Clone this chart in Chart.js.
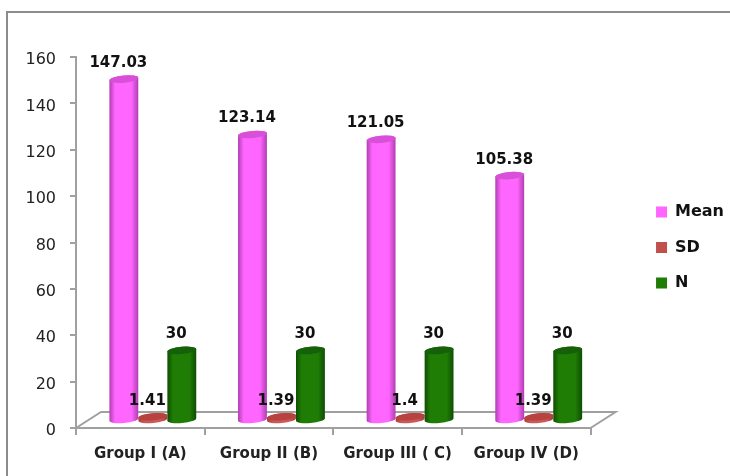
<!DOCTYPE html>
<html>
<head>
<meta charset="utf-8">
<title>Group comparison</title>
<script src="https://cdn.jsdelivr.net/npm/chart.js@4/dist/chart.umd.min.js"></script>
<style>
  html, body { margin: 0; padding: 0; background: #fff; }
  canvas { display: block; }
</style>
</head>
<body>
<canvas id="groupChart" width="730" height="476"></canvas>
<script>
const groups = ["Group I (A)", "Group II (B)", "Group III ( C)", "Group IV (D)"];
const meanValues = [147.03, 123.14, 121.05, 105.38];
const sdValues = [1.41, 1.39, 1.4, 1.39];
const nValues = [30, 30, 30, 30];
const yTicks = [0, 20, 40, 60, 80, 100, 120, 140, 160];

const AXIS_GREY = "#a0a0a0";
const FONT = "'DejaVu Sans', Verdana, sans-serif";

// floor depth of the fake 3D box, bars stand halfway into it
const DEPTH_X = 25;
const DEPTH_Y = 16;
const ELLIPSE_RY = 3.6;

const shades = [
  { edge: "#b03db0", mid: "#ff66ff", top: "#d84fd8" },
  { edge: "#a83c38", mid: "#c9595a", top: "#b8423e" },
  { edge: "#0e4d02", mid: "#1f7d06", top: "#16600a" }
];

function drawCylinder(ctx, bar, shade) {
  const w = bar.width;
  const left = bar.x - w / 2 + DEPTH_X / 2;
  const cx = left + w / 2;
  const topY = bar.y - DEPTH_Y / 2;
  const baseY = bar.base - DEPTH_Y / 2 + 0.5;
  const tilt = -0.09;

  const side = ctx.createLinearGradient(left, 0, left + w, 0);
  side.addColorStop(0, shade.edge);
  side.addColorStop(0.2, shade.mid);
  side.addColorStop(0.76, shade.mid);
  side.addColorStop(1, shade.edge);

  ctx.fillStyle = side;
  ctx.beginPath();
  ctx.ellipse(cx, baseY, w / 2, ELLIPSE_RY, tilt, 0, Math.PI);
  ctx.ellipse(cx, topY, w / 2, ELLIPSE_RY, tilt, Math.PI, Math.PI * 2);
  ctx.closePath();
  ctx.fill();

  ctx.fillStyle = shade.top;
  ctx.beginPath();
  ctx.ellipse(cx, topY, w / 2, ELLIPSE_RY, tilt, 0, Math.PI * 2);
  ctx.fill();
}

const box3d = {
  id: "box3d",
  beforeDraw(chart) {
    // outer frame, runs off the right and bottom of the canvas
    const ctx = chart.ctx;
    ctx.save();
    ctx.strokeStyle = "#8c8c8c";
    ctx.lineWidth = 2;
    ctx.strokeRect(7, 12, 740, 470);
    ctx.restore();
  },
  afterLayout(chart) {
    // legend sits right of the floor, level with the middle of the plot
    const lg = chart.legend;
    lg.top -= 19;
    lg.bottom -= 19;
    lg.left += 46;
    lg.right += 46;
  },
  beforeDatasetsDraw(chart) {
    const { ctx, chartArea: a } = chart;
    ctx.save();
    ctx.strokeStyle = AXIS_GREY;
    ctx.lineWidth = 2;
    ctx.beginPath();
    ctx.moveTo(a.left, a.bottom);
    ctx.lineTo(a.left + DEPTH_X, a.bottom - DEPTH_Y);
    ctx.lineTo(a.right + DEPTH_X, a.bottom - DEPTH_Y);
    ctx.lineTo(a.right, a.bottom);
    ctx.stroke();
    // left to right so each bar overlaps the one before it
    chart.data.datasets.forEach((ds, i) => {
      chart.getDatasetMeta(i).data.forEach(bar => drawCylinder(ctx, bar, shades[i]));
    });
    ctx.restore();
  },
  beforeDatasetDraw() {
    return false; // skip the flat rectangles
  },
  afterDatasetsDraw(chart) {
    const ctx = chart.ctx;
    ctx.save();
    ctx.fillStyle = "#111";
    ctx.font = "bold 15px " + FONT;
    ctx.textAlign = "center";
    ctx.textBaseline = "middle";
    chart.data.datasets.forEach((ds, i) => {
      chart.getDatasetMeta(i).data.forEach((bar, j) => {
        ctx.fillText(String(ds.data[j]), bar.x + DEPTH_X / 2 - 5.5, bar.y - DEPTH_Y / 2 - 16);
      });
    });
    ctx.restore();
  }
};

new Chart(document.getElementById("groupChart"), {
  type: "bar",
  plugins: [box3d],
  data: {
    labels: groups,
    datasets: [
      { label: "Mean", data: meanValues, backgroundColor: "#ff66ff" },
      { label: "SD", data: sdValues, backgroundColor: "#c0504d" },
      { label: "N", data: nValues, backgroundColor: "#1f7d06" }
    ]
  },
  options: {
    responsive: false,
    animation: false,
    categoryPercentage: 0.676,
    barPercentage: 1,
    layout: { padding: { top: 57, right: 42, left: 0, bottom: 0 } },
    plugins: {
      title: { display: false },
      tooltip: { enabled: false },
      legend: {
        position: "right",
        labels: {
          boxWidth: 11,
          boxHeight: 11,
          padding: 19.5,
          color: "#111",
          font: { family: FONT, size: 16, weight: "bold" }
        }
      }
    },
    scales: {
      x: {
        afterFit(scale) { scale.height = 48; },
        border: { color: AXIS_GREY, width: 2 },
        grid: { drawOnChartArea: false, color: AXIS_GREY, lineWidth: 2, tickLength: 7 },
        ticks: {
          color: "#222",
          padding: 10,
          maxRotation: 0,
          font: { family: FONT, size: 15, weight: "bold" }
        }
      },
      y: {
        min: 0,
        max: 160,
        afterFit(scale) { scale.width = 76; },
        afterBuildTicks(scale) { scale.ticks = yTicks.map(value => ({ value })); },
        border: { color: AXIS_GREY, width: 2 },
        grid: { drawOnChartArea: false, color: AXIS_GREY, lineWidth: 2, tickLength: 6 },
        ticks: {
          color: "#222",
          padding: 14,
          labelOffset: 3,
          font: { family: FONT, size: 16 }
        }
      }
    }
  }
});
</script>
</body>
</html>
